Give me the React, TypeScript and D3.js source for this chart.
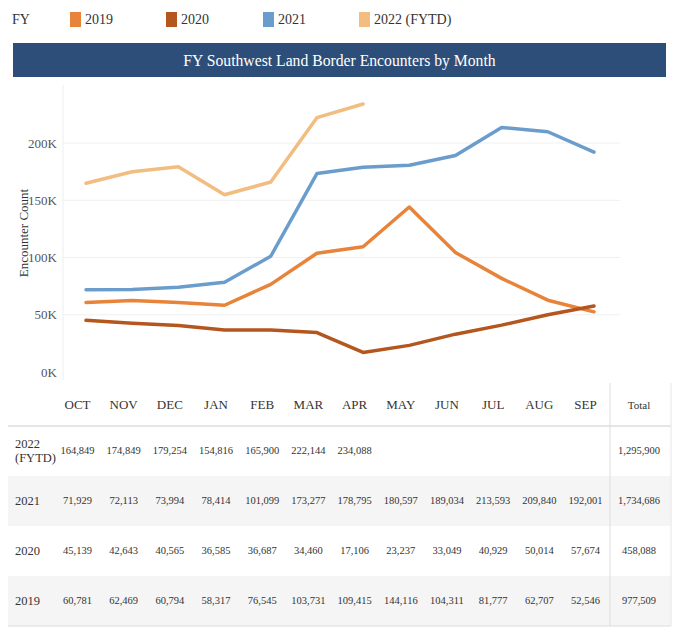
import React from "react";
import * as d3 from "d3";

const months = ["OCT", "NOV", "DEC", "JAN", "FEB", "MAR", "APR", "MAY", "JUN", "JUL", "AUG", "SEP"];
const fy2019 = [60781, 62469, 60794, 58317, 76545, 103731, 109415, 144116, 104311, 81777, 62707, 52546];
const fy2020 = [45139, 42643, 40565, 36585, 36687, 34460, 17106, 23237, 33049, 40929, 50014, 57674];
const fy2021 = [71929, 72113, 73994, 78414, 101099, 173277, 178795, 180597, 189034, 213593, 209840, 192001];
const fy2022 = [164849, 174849, 179254, 154816, 165900, 222144, 234088];
const totals = [977509, 458088, 1734686, 1295900];
const yTicks = [0, 50000, 100000, 150000, 200000];

const seriesList = [
  { key: "2019", label: "2019", values: fy2019, color: "#e8843a", total: totals[0] },
  { key: "2020", label: "2020", values: fy2020, color: "#b4571f", total: totals[1] },
  { key: "2021", label: "2021", values: fy2021, color: "#6a9dcb", total: totals[2] },
  { key: "2022", label: "2022 (FYTD)", values: fy2022, color: "#f2bd80", total: totals[3] },
];

const W = 680;
const H = 628;
const FF = "Liberation Serif";

export default function App() {
  const x = d3.scalePoint<string>().domain(months).range([86, 594]);
  const y = d3.scaleLinear().domain([0, 200000]).range([372, 143]);
  const line = d3
    .line<number>()
    .x((_, i) => x(months[i]) as number)
    .y((d) => y(d));
  const fmt = d3.format(",");

  const tableRows = [seriesList[3], seriesList[2], seriesList[1], seriesList[0]];
  const rowTop = 426;
  const rowH = 50;
  const tblRight = 671;
  const colX = (m: string) => (x(m) as number) - 8.5;

  return (
    <svg width={W} height={H} fontFamily={FF} style={{ position: "absolute", left: 0, top: 0 }}>
      <rect width={W} height={H} fill="#fff" />
      {/* legend */}
      <text x={12} y={24} fontSize={14} fill="#333" fontFamily={FF}>FY</text>
      {seriesList.map((s, i) => {
        const lx = [70, 166, 263, 359][i];
        return (
          <g key={s.key}>
            <rect x={lx} y={12} width={11} height={15} fill={s.color} />
            <text x={lx + 15} y={24} fontSize={14} fill="#333" fontFamily={FF}>{s.label}</text>
          </g>
        );
      })}
      {/* title bar */}
      <rect x={13} y={43} width={653} height={34} fill="#2d4e78" />
      <text x={339.5} y={65.5} textAnchor="middle" fontSize={15.7} fill="#fff" fontFamily={FF}>
        FY Southwest Land Border Encounters by Month
      </text>
      {/* axis + grid */}
      <line x1={63} x2={63} y1={85} y2={380} stroke="#eee" />
      {yTicks.map((t) => (
        <g key={t}>
          {t > 0 && <line x1={63} x2={620} y1={y(t)} y2={y(t)} stroke="#f0f0f0" />}
          <text x={57} y={y(t) + 4.5} textAnchor="end" fontSize={13} fill="#555" fontFamily={FF}>
            {t / 1000}K
          </text>
        </g>
      ))}
      <text
        transform={`translate(28,233) rotate(-90)`}
        textAnchor="middle"
        fontSize={13}
        fill="#333"
        fontFamily={FF}
      >
        Encounter Count
      </text>
      {/* lines */}
      {seriesList.map((s) => (
        <path
          key={s.key}
          d={line(s.values) || ""}
          fill="none"
          stroke={s.color}
          strokeWidth={3.5}
          strokeLinejoin="round"
          strokeLinecap="round"
        />
      ))}
      {/* table */}
      {tableRows.map((s, r) =>
        r % 2 === 1 ? (
          <rect key={s.key} x={8} y={rowTop + r * rowH} width={tblRight - 8} height={rowH} fill="#f5f5f5" />
        ) : null
      )}
      <line x1={8} x2={tblRight} y1={rowTop} y2={rowTop} stroke="#ccc" />
      <line x1={8} x2={tblRight} y1={rowTop + 4 * rowH} y2={rowTop + 4 * rowH} stroke="#ddd" />
      <line x1={610} x2={610} y1={383} y2={rowTop + 4 * rowH} stroke="#ddd" />
      <line x1={tblRight} x2={tblRight} y1={383} y2={rowTop + 4 * rowH} stroke="#e6e6e6" />
      {months.map((m) => (
        <text key={m} x={colX(m)} y={409} textAnchor="middle" fontSize={13} fill="#333" fontFamily={FF}>
          {m}
        </text>
      ))}
      <text x={639} y={409} textAnchor="middle" fontSize={11} fill="#333" fontFamily={FF}>Total</text>
      {tableRows.map((s, r) => {
        const cy = rowTop + r * rowH + rowH / 2;
        return (
          <g key={s.key}>
            {s.key === "2022" ? (
              <text x={15} y={cy - 3} fontSize={12.5} fill="#333" fontFamily={FF}>
                <tspan x={15}>2022</tspan>
                <tspan x={15} dy={14}>(FYTD)</tspan>
              </text>
            ) : (
              <text x={15} y={cy + 4} fontSize={12.5} fill="#333" fontFamily={FF}>{s.key}</text>
            )}
            {s.values.map((v, i) => (
              <text key={i} x={colX(months[i])} y={cy + 3} textAnchor="middle" fontSize={10.5} fill="#333" fontFamily={FF}>
                {fmt(v)}
              </text>
            ))}
            <text x={639} y={cy + 3} textAnchor="middle" fontSize={10.5} fill="#333" fontFamily={FF}>
              {fmt(s.total)}
            </text>
          </g>
        );
      })}
    </svg>
  );
}
